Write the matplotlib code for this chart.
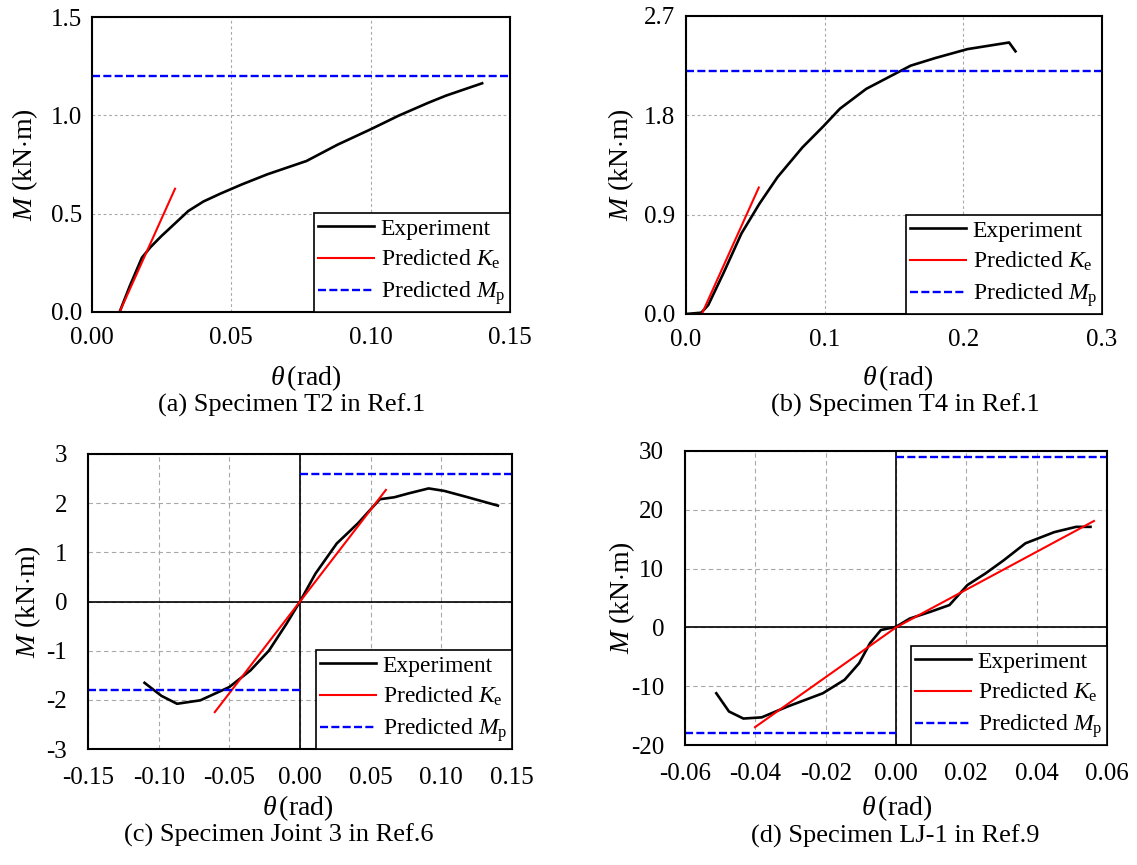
import numpy as np
import matplotlib.pyplot as plt

plt.rcParams['font.family'] = ['Liberation Serif', 'DejaVu Serif']
plt.rcParams['mathtext.fontset'] = 'custom'
plt.rcParams['mathtext.rm'] = 'Liberation Serif'
plt.rcParams['mathtext.it'] = 'Liberation Serif:italic'

# (a) Specimen T2 in Ref.1
a_exp_x = [0.0099, 0.0135, 0.0179, 0.021, 0.0249, 0.029, 0.0346, 0.040, 0.0461, 0.054,
           0.0629, 0.077, 0.088, 0.100, 0.110, 0.1207, 0.127, 0.1336, 0.140]
a_exp_y = [0.0, 0.13, 0.276, 0.33, 0.386, 0.44, 0.514, 0.562, 0.602, 0.65,
           0.70, 0.768, 0.85, 0.929, 0.998, 1.064, 1.10, 1.132, 1.163]
a_ke_x = [0.0099, 0.0298]
a_ke_y = [0.0, 0.627]
a_mp = 1.2

# (b) Specimen T4 in Ref.1
b_exp_x = [0.0, 0.011, 0.016, 0.027, 0.040, 0.053, 0.066, 0.084, 0.099, 0.111, 0.130,
           0.162, 0.180, 0.203, 0.233, 0.2376]
b_exp_y = [0.0, 0.012, 0.08, 0.37, 0.73, 1.0, 1.24, 1.51, 1.70, 1.86, 2.04,
           2.25, 2.32, 2.40, 2.46, 2.38]
b_ke_x = [0.0114, 0.0525]
b_ke_y = [0.0, 1.146]
b_mp = 2.2

# (c) Specimen Joint 3 in Ref.6
c_exp_x = [-0.110, -0.098, -0.087, -0.0705, -0.050, -0.035, -0.022, -0.0095, 0.0, 0.011, 0.026,
           0.041, 0.0565, 0.0667, 0.077, 0.091, 0.102, 0.1175, 0.140]
c_exp_y = [-1.654, -1.92, -2.08, -2.01, -1.74, -1.40, -1.0, -0.45, 0.0, 0.57, 1.18,
           1.59, 2.08, 2.12, 2.20, 2.30, 2.25, 2.13, 1.95]
c_ke_x = [-0.0603, 0.0, 0.0608]
c_ke_y = [-2.25, 0.0, 2.27]
c_mp_pos = 2.6
c_mp_neg = -1.8

# (d) Specimen LJ-1 in Ref.9
d_exp_x = [-0.0511, -0.0475, -0.0434, -0.0382, -0.031, -0.0208, -0.0146, -0.0105, -0.0074,
           -0.0043, 0.0, 0.0039, 0.010, 0.0152, 0.0203, 0.0255, 0.0306, 0.0368, 0.045, 0.0512, 0.0553]
d_exp_y = [-11.2, -14.3, -15.5, -15.3, -13.5, -11.2, -8.9, -6.1, -2.7,
           -0.45, 0.1, 1.5, 2.7, 3.8, 7.2, 9.2, 11.4, 14.3, 16.2, 17.1, 17.1]
d_ke_x = [-0.0401, 0.0, 0.0563]
d_ke_y = [-16.97, 0.0, 18.1]
d_mp_pos = 29.0
d_mp_neg = -18.0

captions = ['(a) Specimen T2 in Ref.1', '(b) Specimen T4 in Ref.1',
            '(c) Specimen Joint 3 in Ref.6', '(d) Specimen LJ-1 in Ref.9']
lbl = ['Experiment', r'Predicted $K_\mathrm{e}$', r'Predicted $M_\mathrm{p}$']

W, H = 1137, 865
fig = plt.figure(figsize=(W / 100, H / 100), dpi=100)


def px_axes(l, t, r, b):
    return fig.add_axes([l / W, 1 - b / H, (r - l) / W, (b - t) / H])


def style(ax, box, xlim, ylim, xt, yt, xfmt, yfmt, ypad, xpad, grid_ls, xl_xy, yl_x):
    l, t, r, b = box
    ax.set_xlim(xlim)
    ax.set_ylim(ylim)
    ax.set_xticks(xt)
    ax.set_yticks(yt)
    ax.set_xticklabels([xfmt.format(v) for v in xt])
    ax.set_yticklabels([yfmt.format(v) for v in yt])
    ax.tick_params(length=0, labelsize=18)
    ax.tick_params(axis='y', pad=ypad)
    ax.tick_params(axis='x', pad=xpad)
    ax.grid(True, color='#a8a8a8', linestyle=grid_ls, linewidth=0.8)
    for s in ax.spines.values():
        s.set_linewidth(1.5)
    ax.set_xlabel(r'$\theta\,$(rad)', fontsize=20, va='center')
    ax.xaxis.set_label_coords((xl_xy[0] - l) / (r - l), (b - xl_xy[1]) / (b - t))
    ax.set_ylabel(r'$M$ (kN$\cdot$m)', fontsize=20, va='center')
    ax.yaxis.set_label_coords((yl_x - l) / (r - l), 0.5)


def legend(ax):
    leg = ax.legend(loc='lower right', fontsize=17, frameon=True, fancybox=False,
                    framealpha=1, edgecolor='black', borderaxespad=0,
                    handlelength=2.35, labelspacing=0.35, borderpad=0.2, handletextpad=0.3)
    leg.get_frame().set_linewidth(1.2)


dash = (0, (3.4, 1.4))

# (a)
box = (92, 17, 510, 312)
ax = px_axes(*box)
ax.plot(a_exp_x, a_exp_y, color='black', lw=1.9, label=lbl[0])
ax.plot(a_ke_x, a_ke_y, color='red', lw=1.5, label=lbl[1])
ax.plot([0, 0.15], [a_mp, a_mp], color='blue', lw=1.7, ls=dash, label=lbl[2])
style(ax, box, (0, 0.15), (0, 1.5), [0, 0.05, 0.10, 0.15], [0, 0.5, 1.0, 1.5], '{:.2f}', '{:.1f}',
      7, 11, (0, (2.5, 2.5)), (306, 378), 25)
legend(ax)

# (b)
box = (686, 16, 1102, 314)
ax = px_axes(*box)
ax.plot(b_exp_x, b_exp_y, color='black', lw=1.9, label=lbl[0])
ax.plot(b_ke_x, b_ke_y, color='red', lw=1.5, label=lbl[1])
ax.plot([0, 0.3], [b_mp, b_mp], color='blue', lw=1.7, ls=dash, label=lbl[2])
style(ax, box, (0, 0.3), (0, 2.7), [0, 0.1, 0.2, 0.3], [0, 0.9, 1.8, 2.7], '{:.1f}', '{:.1f}',
      8, 11, (0, (2.5, 2.5)), (898, 378), 621)
legend(ax)

# (c)
box = (88, 454, 512, 749)
ax = px_axes(*box)
ax.axhline(0, color='black', lw=1.2)
ax.axvline(0, color='black', lw=1.2)
ax.plot(c_exp_x, c_exp_y, color='black', lw=1.9, label=lbl[0])
ax.plot(c_ke_x, c_ke_y, color='red', lw=1.5, label=lbl[1])
ax.plot([-0.15, 0], [c_mp_neg, c_mp_neg], color='blue', lw=1.7, ls=dash, label=lbl[2])
ax.plot([0, 0.15], [c_mp_pos, c_mp_pos], color='blue', lw=1.7, ls=dash)
style(ax, box, (-0.15, 0.15), (-3, 3), [-0.15, -0.10, -0.05, 0, 0.05, 0.10, 0.15],
      [-3, -2, -1, 0, 1, 2, 3], '{:.2f}', '{:.0f}', 15, 13, (0, (4, 3)), (298, 808), 28)
legend(ax)

# (d)
box = (685, 451, 1107, 745)
ax = px_axes(*box)
ax.axhline(0, color='black', lw=1.2)
ax.axvline(0, color='black', lw=1.2)
ax.plot(d_exp_x, d_exp_y, color='black', lw=1.9, label=lbl[0])
ax.plot(d_ke_x, d_ke_y, color='red', lw=1.5, label=lbl[1])
ax.plot([-0.06, 0], [d_mp_neg, d_mp_neg], color='blue', lw=1.7, ls=dash, label=lbl[2])
ax.plot([0, 0.06], [d_mp_pos, d_mp_pos], color='blue', lw=1.7, ls=dash)
style(ax, box, (-0.06, 0.06), (-20, 30), [-0.06, -0.04, -0.02, 0, 0.02, 0.04, 0.06],
      [-20, -10, 0, 10, 20, 30], '{:.2f}', '{:.0f}', 15, 13, (0, (4, 3)), (897, 808), 622)
legend(ax)

cap_pos = [(292, 405), (905, 405), (279, 835), (895, 836)]
for (x, y), c in zip(cap_pos, captions):
    fig.text(x / W, 1 - y / H, c, ha='center', va='center', fontsize=19)

fig.savefig('out.png', dpi=100)
